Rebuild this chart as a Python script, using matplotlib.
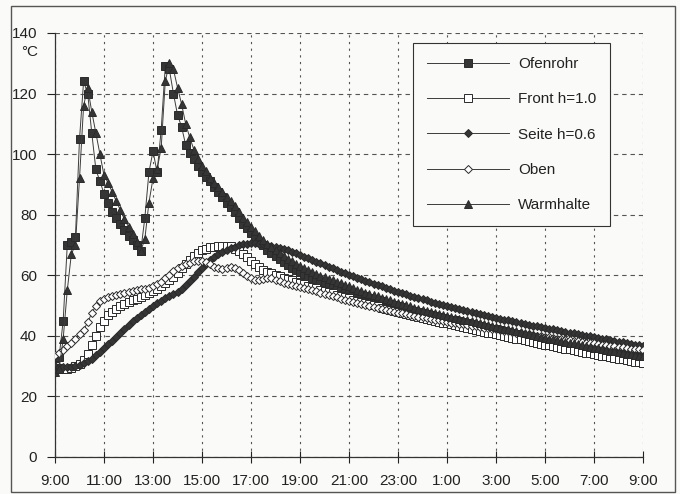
import matplotlib

matplotlib.use("Agg")

import matplotlib.pyplot as plt
import numpy as np
from matplotlib.patches import Rectangle


plt.rcParams["font.family"] = ["Liberation Sans", "DejaVu Sans"]

BG = "#fafaf8"
DARK = "#353535"
STEP_MIN = 10  # one reading every 10 minutes, 9:00 -> 9:00 next day

TICK_LABELS = [
    "9:00", "11:00", "13:00", "15:00", "17:00", "19:00", "21:00",
    "23:00", "1:00", "3:00", "5:00", "7:00", "9:00",
]

ofenrohr = [
    30, 33, 45, 70, 71, 72.6, 105, 124, 120, 107,
    95, 91, 87, 84, 81, 79, 77, 75, 73, 71.5,
    70, 68, 79, 94, 101, 94, 108, 129, 128, 120,
    113, 109, 103, 100.5, 98.5, 96, 94, 92.5, 91, 89,
    87.5, 86, 84, 82.5, 81, 79, 77, 75.5, 74, 72.5,
    71, 70, 68.5, 67.5, 66.5, 65.5, 64.5, 63.5, 62.5, 61.7,
    61, 60.3, 59.6, 59, 58.4, 57.8, 57.3, 56.8, 56.3, 55.8,
    55.4, 55, 54.6, 54.2, 53.8, 53.4, 53, 52.6, 52.2, 51.8,
    51.4, 51, 50.6, 50.2, 49.8, 49.4, 49, 48.6, 48.3, 48,
    47.6, 47.3, 47, 46.6, 46.3, 46, 45.7, 45.4, 45.1, 44.8,
    44.5, 44.2, 43.9, 43.6, 43.3, 43, 42.7, 42.4, 42.1, 41.8,
    41.5, 41.2, 40.9, 40.6, 40.3, 40, 39.7, 39.5, 39.2, 38.9,
    38.6, 38.4, 38.1, 37.8, 37.6, 37.3, 37, 36.8, 36.5, 36.3,
    36, 35.8, 35.5, 35.3, 35, 34.8, 34.6, 34.3, 34.1, 33.9,
    33.7, 33.4, 33.2, 33, 32.8,
]

front = [
    30, 29.5, 29.2, 29.2, 29.5, 30, 30.8, 32, 34, 37,
    40, 42.8, 45, 46.8, 48, 49, 49.8, 50.5, 51.1, 51.7,
    52.3, 52.9, 53.5, 54.2, 54.9, 55.6, 56.5, 57.4, 58.4, 59.5,
    60.8, 62.3, 63.8, 65.2, 66.4, 67.4, 68.2, 68.8, 69.2, 69.5,
    69.6, 69.8, 69.8, 69.6, 68.8, 68, 67, 66, 64.8, 63.7,
    62.7, 61.9, 61.2, 60.6, 60.1, 59.6, 59.1, 58.7, 58.3, 57.9,
    57.5, 57, 56.6, 56.1, 55.7, 55.3, 54.8, 54.4, 54, 53.6,
    53.2, 52.8, 52.4, 52, 51.6, 51.2, 50.8, 50.4, 50.1, 49.7,
    49.3, 49, 48.6, 48.3, 47.9, 47.6, 47.2, 46.9, 46.6, 46.2,
    45.9, 45.6, 45.3, 45, 44.7, 44.4, 44.1, 43.8, 43.5, 43.2,
    42.9, 42.6, 42.3, 42, 41.7, 41.4, 41.1, 40.8, 40.5, 40.2,
    39.9, 39.7, 39.4, 39.1, 38.8, 38.5, 38.2, 38, 37.7, 37.4,
    37.1, 36.9, 36.6, 36.3, 36.1, 35.8, 35.5, 35.3, 35, 34.8,
    34.5, 34.2, 34, 33.7, 33.5, 33.2, 33, 32.7, 32.5, 32.2,
    32, 31.8, 31.5, 31.3, 31,
]

seite = [
    30, 29.8, 29.6, 29.6, 29.8, 30, 30.4, 30.9, 31.6, 32.5,
    33.6, 34.8, 36, 37.2, 38.4, 39.6, 40.9, 42.2, 43.5, 44.8,
    46, 47, 48, 49, 49.9, 50.8, 51.6, 52.4, 53.1, 53.8,
    54.6, 55.6, 56.8, 58.1, 59.5, 61, 62.5, 63.8, 65, 66,
    67, 67.8, 68.4, 69, 69.5, 69.9, 70.2, 70.4, 70.5, 70.5,
    70.4, 70.2, 70, 69.7, 69.4, 69, 68.6, 68.2, 67.7, 67.2,
    66.7, 66.2, 65.6, 65.1, 64.5, 64, 63.4, 62.9, 62.3, 61.8,
    61.2, 60.7, 60.2, 59.7, 59.2, 58.7, 58.2, 57.7, 57.2, 56.7,
    56.3, 55.8, 55.4, 54.9, 54.5, 54.1, 53.7, 53.3, 52.9, 52.5,
    52.1, 51.7, 51.3, 50.9, 50.6, 50.2, 49.9, 49.5, 49.2, 48.8,
    48.5, 48.2, 47.8, 47.5, 47.2, 46.9, 46.6, 46.3, 46, 45.7,
    45.4, 45.1, 44.8, 44.5, 44.2, 44, 43.7, 43.4, 43.2, 42.9,
    42.6, 42.4, 42.1, 41.9, 41.6, 41.4, 41.1, 40.9, 40.6, 40.4,
    40.1, 39.9, 39.6, 39.4, 39.1, 38.9, 38.6, 38.4, 38.1, 37.9,
    37.6, 37.4, 37.1, 36.9, 36.6,
]

oben = [
    33.7, 34.5, 35.3, 36.5, 37.8, 39, 40.5, 42, 44.5, 47.5,
    50, 51.5, 52.3, 52.8, 53.2, 53.5, 53.9, 54.3, 54.6, 54.9,
    55.2, 55.4, 55.6, 55.9, 56.3, 57, 57.9, 59, 60.2, 61.3,
    62.3, 63.1, 63.7, 64.2, 64.6, 64.8, 64.8, 64.4, 63.6, 62.8,
    62.3, 62.2, 62.4, 62.6, 62.4, 61.8, 60.8, 59.8, 59, 58.6,
    58.6, 58.8, 59, 59, 58.6, 58, 57.5, 57.1, 56.8, 56.5,
    56.2, 55.9, 55.5, 55.1, 54.7, 54.3, 53.9, 53.5, 53.1, 52.7,
    52.3, 51.9, 51.5, 51.1, 50.8, 50.5, 50.1, 49.8, 49.5, 49.2,
    48.9, 48.6, 48.3, 48, 47.7, 47.4, 47.1, 46.8, 46.6, 46.3,
    46.1, 45.8, 45.6, 45.3, 45.1, 44.8, 44.6, 44.4, 44.2, 44,
    43.8, 43.5, 43.3, 43.1, 42.9, 42.7, 42.5, 42.3, 42.1, 41.9,
    41.7, 41.5, 41.3, 41.1, 40.9, 40.7, 40.5, 40.3, 40.1, 39.9,
    39.7, 39.5, 39.3, 39.1, 38.9, 38.7, 38.6, 38.4, 38.2, 38,
    37.8, 37.6, 37.5, 37.3, 37.1, 36.9, 36.7, 36.6, 36.4, 36.2,
    36, 35.8, 35.7, 35.5, 35.3,
]

warmhalte = [
    28, 29, 39, 55, 67, 70, 92, 116, 122, 114,
    107, 100, 93, 90.5, 87.5, 84.5, 81.5, 78.5, 76, 73.5,
    71, 68, 72, 84, 92, 95, 102, 124, 130, 128,
    122, 116.5, 110, 105.5, 101.5, 98.5, 96, 94.5, 92, 90.5,
    89, 87.5, 86, 84.5, 83, 81, 79, 77.5, 76, 74.5,
    73, 71.5, 70.3, 69.2, 68.2, 67.2, 66.3, 65.4, 64.6, 63.8,
    63.1, 62.4, 61.7, 61.1, 60.5, 59.9, 59.3, 58.8, 58.3, 57.8,
    57.3, 56.8, 56.3, 55.8, 55.3, 54.8, 54.3, 53.8, 53.4, 53,
    52.5, 52.1, 51.7, 51.3, 50.9, 50.5, 50.1, 49.7, 49.3, 49,
    48.6, 48.3, 47.9, 47.6, 47.3, 46.9, 46.6, 46.3, 46, 45.7,
    45.4, 45.1, 44.8, 44.5, 44.2, 43.9, 43.6, 43.3, 43, 42.7,
    42.4, 42.1, 41.8, 41.5, 41.2, 40.9, 40.6, 40.3, 40, 39.7,
    39.4, 39.1, 38.8, 38.6, 38.3, 38, 37.7, 37.5, 37.2, 36.9,
    36.7, 36.4, 36.1, 35.9, 35.6, 35.4, 35.1, 34.9, 34.6, 34.4,
    34.1, 33.9, 33.7, 33.4, 33.2,
]

# label, values, marker, face colour, marker size
SERIES = [
    ("Ofenrohr", ofenrohr, "s", DARK, 5.4),
    ("Front h=1.0", front, "s", "white", 5.4),
    ("Seite h=0.6", seite, "D", DARK, 3.6),
    ("Oben", oben, "D", "white", 4.4),
    ("Warmhalte", warmhalte, "^", DARK, 5.8),
]


def main() -> None:
    hours = np.arange(len(ofenrohr)) * STEP_MIN / 60

    fig = plt.figure(figsize=(6.8, 4.94), dpi=100)
    fig.patch.set_facecolor(BG)
    fig.patches.append(
        Rectangle(
            (0.016, 0.004), 0.977, 0.984,
            transform=fig.transFigure, fill=False,
            edgecolor="#555555", linewidth=1.0,
        )
    )

    ax = fig.add_axes([0.0809, 0.0749, 0.8647, 0.8583])
    ax.set_facecolor(BG)

    for label, values, marker, face, size in SERIES:
        ax.plot(
            hours, values,
            color="#3c3c3c", linewidth=0.7,
            marker=marker, markersize=size,
            markerfacecolor=face, markeredgecolor="#2a2a2a",
            markeredgewidth=0.7, label=label, zorder=3,
        )

    ax.set_xlim(0, 24)
    ax.set_ylim(0, 140)
    ax.set_xticks(np.arange(0, 25, 2))
    ax.set_xticklabels(TICK_LABELS)
    ax.set_yticks(np.arange(0, 141, 20))

    ax.yaxis.grid(True, linestyle=(0, (4, 3.5)), color="#555555", linewidth=0.8)
    ax.xaxis.grid(True, linestyle=(0, (2, 4)), color="#555555", linewidth=0.8)
    ax.set_axisbelow(True)

    for side in ["top", "right"]:
        ax.spines[side].set_visible(False)
    for side in ["left", "bottom"]:
        ax.spines[side].set_color("#333333")
        ax.spines[side].set_linewidth(0.9)

    ax.tick_params(axis="y", direction="out", length=6, width=0.8,
                   pad=7, labelsize=11, colors="#222222")
    ax.tick_params(axis="x", direction="inout", length=9, width=0.8,
                   pad=8, labelsize=11, colors="#222222")

    fig.text(30 / 680, 1 - 52 / 494, "°C", ha="center", va="center",
             fontsize=11, color="#222222")

    legend = ax.legend(
        loc="upper left", bbox_to_anchor=(0.609, 0.976),
        borderaxespad=0, fancybox=False, framealpha=1,
        facecolor=BG, edgecolor="#333333",
        handlelength=5.4, handletextpad=0.55, labelspacing=1.4,
        borderpad=0.9, fontsize=11,
    )
    legend.get_frame().set_linewidth(0.8)
    for text in legend.get_texts():
        text.set_color("#222222")

    fig.savefig("out.png", dpi=100, facecolor=BG)
    plt.close(fig)


if __name__ == "__main__":
    main()
